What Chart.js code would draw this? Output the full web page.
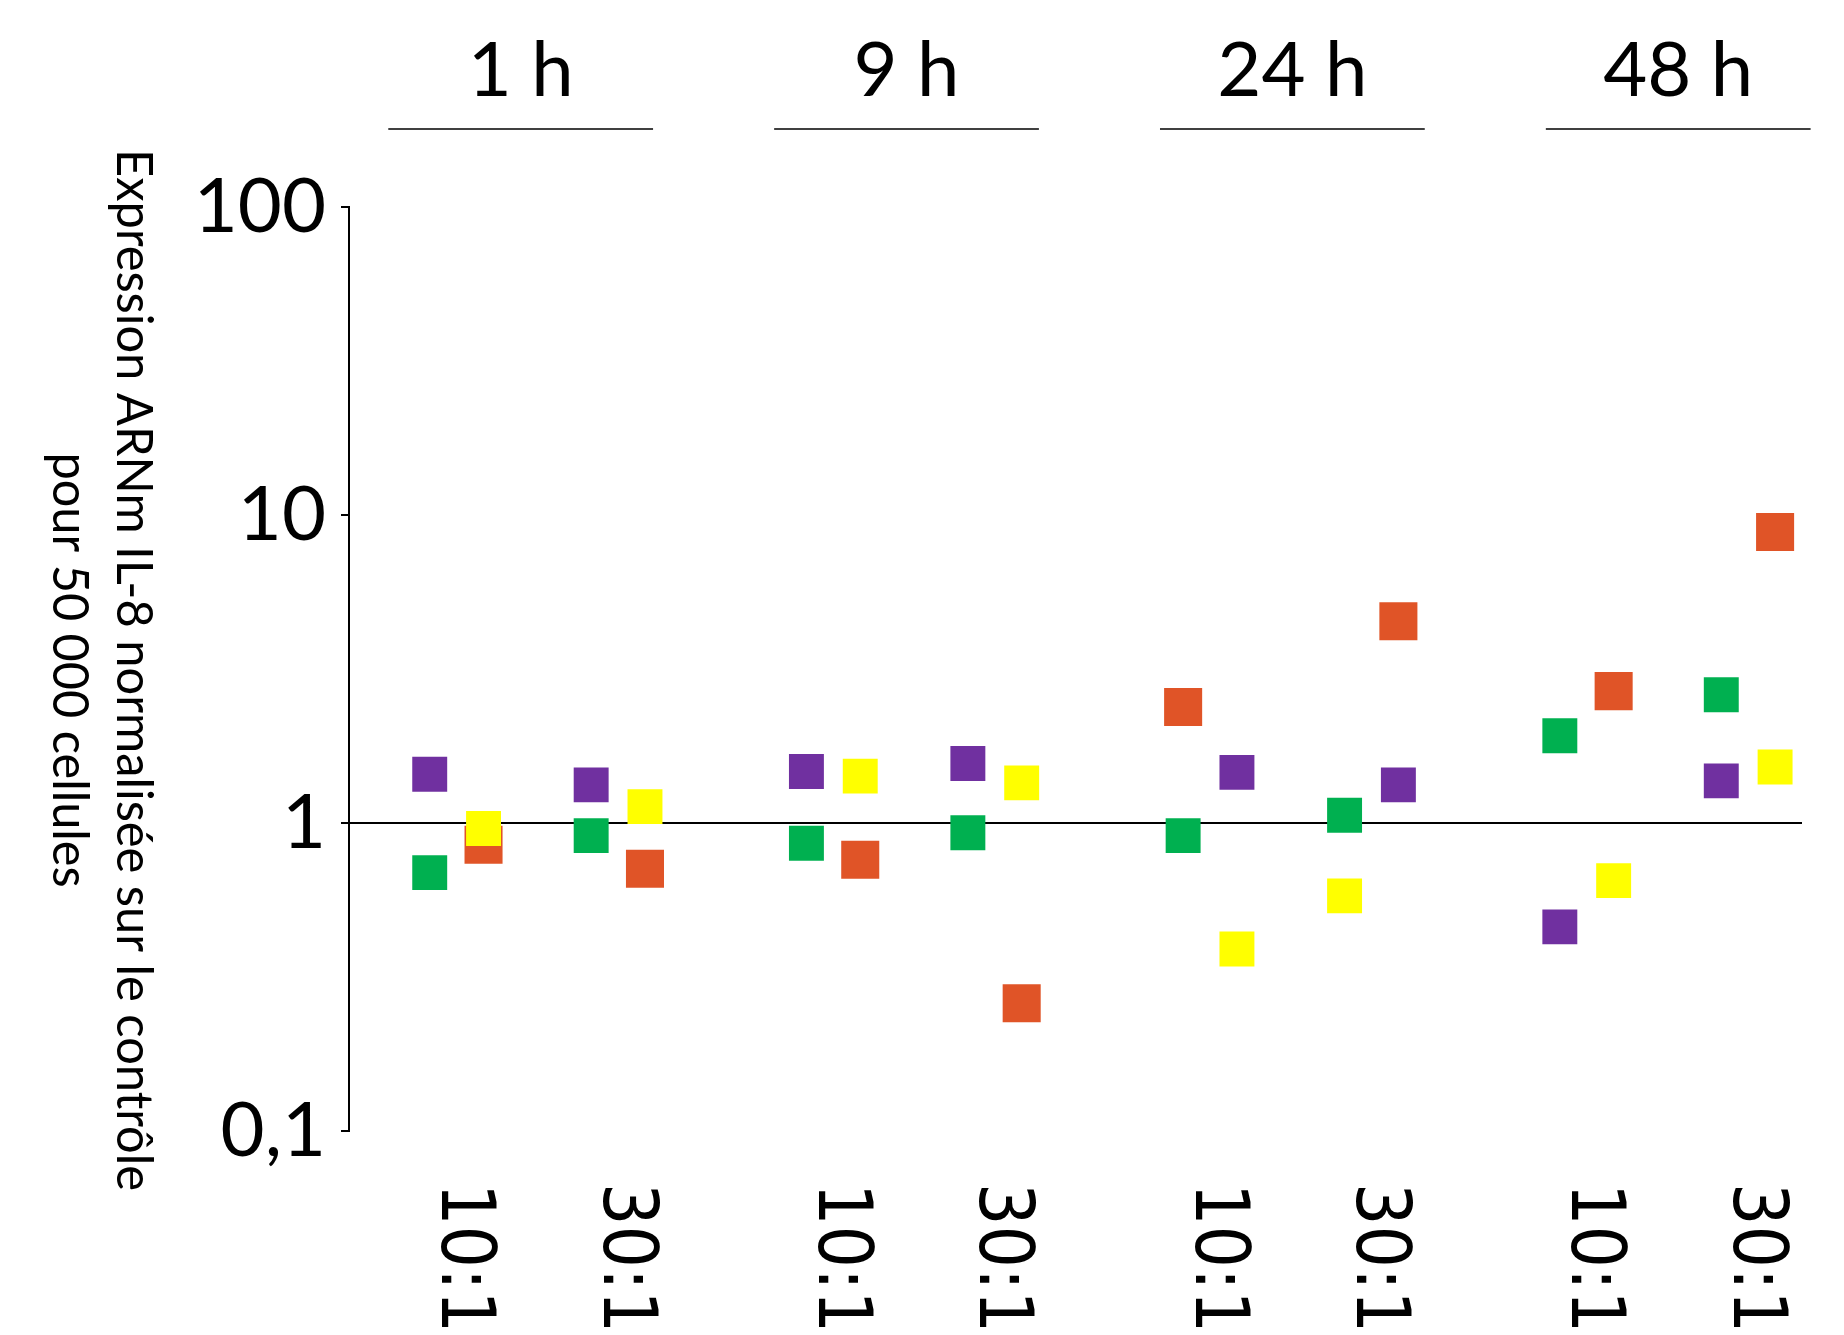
<!DOCTYPE html>
<html>
<head>
<meta charset="utf-8">
<script src="https://cdn.jsdelivr.net/npm/chart.js@4.4.1/dist/chart.umd.min.js"></script>
<style>
  body { margin: 0; background: #fff; }
  canvas { display: block; }
</style>
</head>
<body>
<canvas id="il8Chart" width="1844" height="1335"></canvas>
<script>
// donnees
const groups = ['1 h', '9 h', '24 h', '48 h'];
const ratios = ['10:1', '30:1'];
const yTicks = [0.1, 1, 10, 100];
const yTickLabels = ['0,1', '1', '10', '100'];
const yTitle = ['Expression ARNm IL-8 normalisée sur le contrôle', 'pour 50 000 cellules'];

// une valeur par condition : 1 h 10:1, 1 h 30:1, 9 h 10:1, ... 48 h 30:1
const purple = [1.44, 1.33, 1.47, 1.56, 1.46, 1.33, 0.46, 1.37];
const green  = [0.69, 0.91, 0.86, 0.93, 0.91, 1.06, 1.92, 2.61];
const yellow = [0.96, 1.13, 1.42, 1.35, 0.39, 0.58, 0.65, 1.52];
const orange = [0.85, 0.71, 0.76, 0.26, 2.38, 4.52, 2.68, 8.81];

// colonne dans chaque condition (0 = gauche, 1 = droite)
const purpleCol = [0, 0, 0, 0, 1, 1, 0, 0];
const greenCol  = [0, 0, 0, 0, 0, 0, 0, 0];
const yellowCol = [1, 1, 1, 1, 1, 0, 1, 1];
const orangeCol = [1, 1, 1, 1, 0, 1, 1, 1];

// position sur l'axe x : groupe, ratio, et colonne
function xOf(i, side) {
    const g = Math.floor(i / ratios.length);
    const r = i % ratios.length;
    return g * 7 + r * 3 + side;
}

function points(values, cols) {
    return values.map((v, i) => ({ x: xOf(i, cols[i]), y: v }));
}

function serie(label, values, cols, color, radius) {
    return {
        label: label,
        data: points(values, cols),
        pointStyle: 'rect',
        pointRadius: radius,
        pointHoverRadius: radius,
        backgroundColor: color,
        borderWidth: 0,
        showLine: false
    };
}

// textes dessines autour du graphe (titres de groupe, ratios, titre y)
const labelsPlugin = {
    id: 'labelsPlugin',
    afterDraw(chart) {
        const ctx = chart.ctx;
        const xs = chart.scales.x;
        const area = chart.chartArea;
        const unit = xs.getPixelForValue(1) - xs.getPixelForValue(0);
        ctx.save();
        ctx.fillStyle = '#000';

        // titres des groupes + traits
        ctx.font = '76px Lato, "Noto Sans", sans-serif';
        ctx.textAlign = 'center';
        ctx.textBaseline = 'alphabetic';
        groups.forEach((g, k) => {
            const cx = xs.getPixelForValue(k * 7.17 + 1.69);
            ctx.fillText(g, cx, 96);
            ctx.strokeStyle = '#404040';
            ctx.lineWidth = 2;
            ctx.beginPath();
            ctx.moveTo(cx - 2.46 * unit, 129);
            ctx.lineTo(cx + 2.46 * unit, 129);
            ctx.stroke();
        });

        // ratios sous l'axe, texte tourne de 90 degres
        ctx.font = '75px "DejaVu Sans Condensed", "DejaVu Sans", sans-serif';
        ctx.textAlign = 'left';
        groups.forEach((g, k) => {
            ratios.forEach((r, j) => {
                const i = k * ratios.length + j;
                const cx = xs.getPixelForValue(xOf(i, 0.5));
                ctx.save();
                ctx.translate(cx - 14.5, area.bottom + 52);
                ctx.rotate(Math.PI / 2);
                ctx.fillText(r, 0, 0, 150);
                ctx.restore();
            });
        });

        // titre de l'axe y
        ctx.font = '50px Lato, "Noto Sans", sans-serif';
        ctx.textAlign = 'center';
        const cy = (area.top + area.bottom) / 2 + 1;
        ctx.save();
        ctx.translate(117, cy);
        ctx.rotate(Math.PI / 2);
        ctx.fillText(yTitle[0], 0, 0, 1042);
        ctx.fillText(yTitle[1], 0, 64, 435);
        ctx.restore();

        ctx.restore();
    }
};

const ctx = document.getElementById('il8Chart').getContext('2d');
new Chart(ctx, {
    type: 'scatter',
    data: {
        datasets: [
            serie('violet', purple, purpleCol, '#7030A0', 24.7),
            serie('vert', green, greenCol, '#00B050', 24.7),
            serie('jaune', yellow, yellowCol, '#FFFF00', 24.7),
            serie('orange', orange, orangeCol, '#E05427', 26.9)
        ]
    },
    options: {
        responsive: false,
        animation: false,
        layout: {
            padding: { top: 207, bottom: 204, right: 42, left: 0 }
        },
        scales: {
            x: {
                type: 'linear',
                display: false,
                min: -1.5,
                max: 25.5
            },
            y: {
                type: 'logarithmic',
                min: 0.1,
                max: 100,
                afterBuildTicks: (scale) => {
                    scale.ticks = yTicks.map(v => ({ value: v }));
                },
                afterFit: (scale) => {
                    scale.width = 349;
                },
                ticks: {
                    color: '#000',
                    padding: 15,
                    font: { family: 'Lato, "Noto Sans", sans-serif', size: 76 },
                    callback: (value) => {
                        const k = yTicks.indexOf(value);
                        return k >= 0 ? yTickLabels[k] : '';
                    }
                },
                grid: {
                    color: (c) => (c.tick && c.tick.value === 1 ? '#000' : 'rgba(0,0,0,0)'),
                    tickColor: '#000',
                    tickLength: 8,
                    lineWidth: 2
                },
                border: {
                    color: '#000',
                    width: 2
                }
            }
        },
        plugins: {
            legend: { display: false },
            tooltip: { enabled: false }
        }
    },
    plugins: [labelsPlugin]
});
</script>
</body>
</html>
